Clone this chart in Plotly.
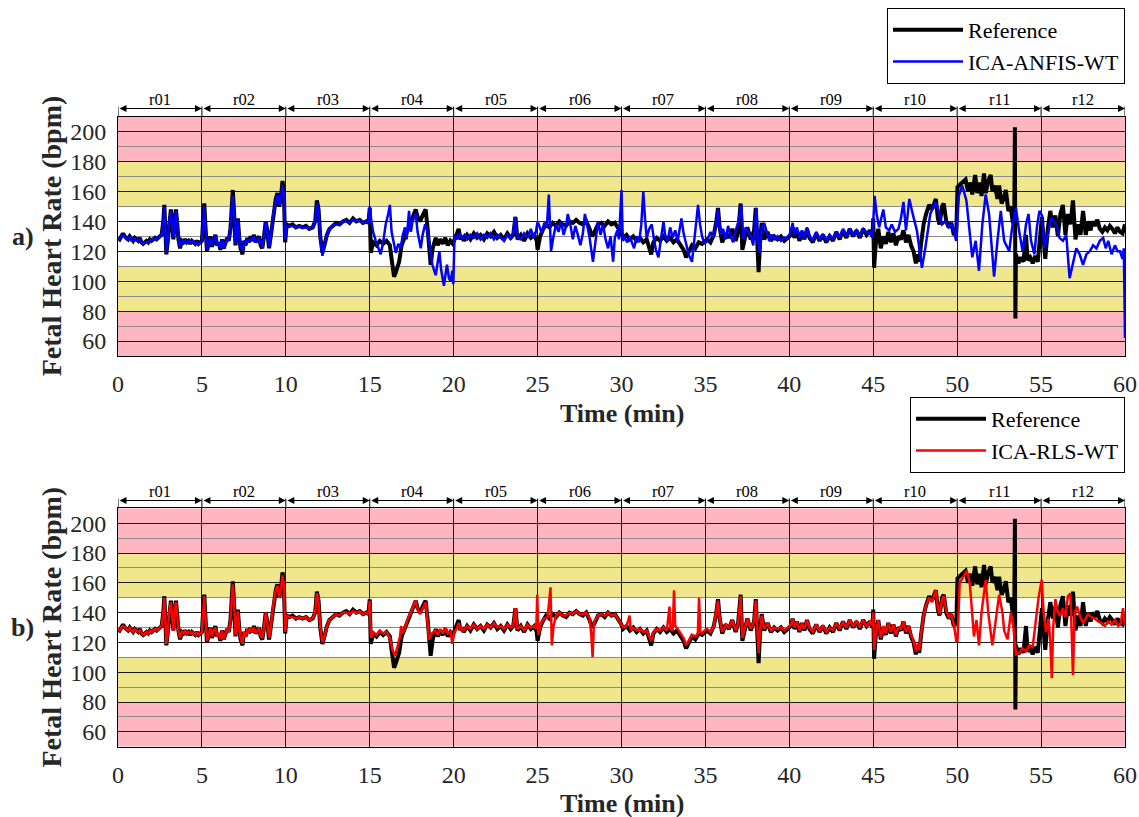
import plotly.graph_objects as go

# ---------------- data (time in min, FHR in bpm) ----------------
reference = [
    (0.0,129),(0.1,128),(0.2,130),(0.3,132),(0.4,130),(0.5,129),(0.6,128),(0.7,130),(0.8,128),(0.9,127),
    (1.0,129),(1.1,128),(1.2,127),(1.3,129),(1.4,126),(1.5,125),(1.6,126),(1.7,127),(1.8,126),(1.9,128),
    (2.0,127),(2.1,128),(2.2,129),(2.3,128),(2.4,129),(2.5,130),(2.6,131),(2.7,140),(2.76,151),(2.82,135),
    (2.88,118),(2.95,125),(3.05,140),(3.15,148),(3.22,140),(3.3,128),(3.38,140),(3.45,148),(3.52,140),(3.6,128),
    (3.7,122),(3.8,127),(3.9,126),(4.0,128),(4.1,126),(4.2,127),(4.3,125),(4.4,127),(4.5,126),(4.6,125),
    (4.7,127),(4.8,125),(4.9,126),(5.0,127),(5.07,140),(5.14,152),(5.22,135),(5.3,120),(5.4,125),(5.5,130),
    (5.6,123),(5.7,128),(5.8,131),(5.9,124),(6.0,126),(6.1,121),(6.2,128),(6.3,122),(6.4,126),(6.5,129),
    (6.6,127),(6.7,135),(6.78,150),(6.84,161),(6.92,145),(7.0,124),(7.08,135),(7.14,142),(7.22,130),(7.3,122),
    (7.42,118),(7.5,127),(7.6,124),(7.7,129),(7.8,126),(7.9,130),(8.0,127),(8.1,131),(8.2,126),(8.3,128),
    (8.4,130),(8.5,124),(8.6,122),(8.7,130),(8.8,140),(8.88,135),(9.0,122),(9.1,130),(9.25,145),(9.4,155),
    (9.5,159),(9.6,150),(9.7,155),(9.8,167),(9.88,160),(9.96,126),(10.05,138),(10.2,137),(10.4,138),(10.6,136),
    (10.8,137),(11.0,136),(11.2,137),(11.4,135),(11.6,136),(11.75,140),(11.85,154),(11.95,148),(12.05,130),(12.18,119),
    (12.3,124),(12.45,131),(12.6,135),(12.8,137),(13.0,139),(13.2,138),(13.4,140),(13.6,141),(13.8,139),(14.0,142),
    (14.2,140),(14.4,141),(14.6,139),(14.8,140),(14.92,139),(15.0,149),(15.06,119),(15.2,126),(15.4,124),(15.6,127),
    (15.8,125),(16.0,127),(16.2,124),(16.3,115),(16.45,103),(16.55,106),(16.75,113),(16.9,124),(17.0,127),(17.14,131),
    (17.3,136),(17.45,140),(17.6,144),(17.74,148),(17.85,143),(18.0,140),(18.15,144),(18.33,148),(18.45,135),(18.55,120),
    (18.63,111),(18.75,122),(18.93,129),(19.05,124),(19.2,128),(19.35,125),(19.5,129),(19.65,124),(19.8,127),(19.95,125),
    (20.1,129),(20.2,131),(20.3,135),(20.4,128),(20.5,130),(20.6,127),(20.8,131),(21.0,128),(21.2,132),(21.4,129),
    (21.6,131),(21.8,128),(22.0,132),(22.2,130),(22.4,133),(22.6,129),(22.8,131),(23.0,128),(23.2,132),(23.4,129),
    (23.55,131),(23.68,143),(23.8,128),(24.0,131),(24.2,127),(24.4,132),(24.6,129),(24.8,131),(24.95,127),(25.0,121),
    (25.15,130),(25.3,134),(25.5,138),(25.7,136),(25.9,139),(26.1,137),(26.3,140),(26.5,138),(26.7,137),(26.9,140),
    (27.1,139),(27.3,141),(27.5,139),(27.7,138),(27.9,140),(28.1,135),(28.25,130),(28.4,133),(28.6,138),(28.8,139),
    (29.0,137),(29.2,140),(29.4,138),(29.6,139),(29.8,136),(29.95,133),(30.1,129),(30.3,131),(30.5,128),(30.7,130),
    (30.9,127),(31.1,129),(31.3,126),(31.5,128),(31.77,118),(31.9,126),(32.1,129),(32.3,127),(32.5,130),(32.7,127),
    (32.9,129),(33.1,126),(33.3,128),(33.5,125),(33.7,121),(33.85,116),(34.0,119),(34.2,124),(34.4,122),(34.6,126),
    (34.8,125),(34.95,127),(35.1,128),(35.3,126),(35.5,131),(35.65,140),(35.75,149),(35.85,136),(36.0,126),(36.2,132),
    (36.4,129),(36.6,135),(36.8,127),(36.95,133),(37.1,152),(37.2,121),(37.35,130),(37.5,136),(37.7,128),(37.9,134),
    (38.0,149),(38.1,125),(38.17,106),(38.25,125),(38.35,139),(38.5,128),(38.7,133),(38.9,127),(39.1,130),(39.3,128),
    (39.5,130),(39.7,127),(39.9,129),(40.1,131),(40.2,136),(40.3,129),(40.45,134),(40.6,127),(40.75,133),(40.9,128),
    (41.05,135),(41.2,129),(41.4,126),(41.6,132),(41.8,127),(42.0,131),(42.2,126),(42.4,130),(42.6,127),(42.8,133),
    (43.0,128),(43.2,134),(43.4,129),(43.6,135),(43.8,130),(44.0,134),(44.2,129),(44.4,135),(44.6,131),(44.8,134),
    (44.95,130),(45.0,142),(45.05,109),(45.15,125),(45.3,135),(45.45,122),(45.6,130),(45.75,125),(45.9,133),(46.05,126),
    (46.2,132),(46.35,124),(46.5,130),(46.65,128),(46.8,134),(46.95,126),(47.1,131),(47.25,124),(47.4,120),(47.54,112),
    (47.65,118),(47.74,113),(47.85,125),(48.0,138),(48.15,145),(48.33,151),(48.5,148),(48.62,152),(48.73,155),(48.85,142),
    (48.95,138),(49.1,150),(49.2,152),(49.35,140),(49.5,136),(49.65,139),(49.8,131),(49.95,133),(50.02,163),(50.2,165),
    (50.35,167),(50.5,168),(50.65,160),(50.8,166),(50.9,158),(51.07,171),(51.2,159),(51.35,166),(51.45,157),(51.6,172),
    (51.7,159),(51.85,167),(52.0,171),(52.1,160),(52.25,164),(52.4,155),(52.5,164),(52.65,152),(52.8,156),(52.9,161),
    (53.05,147),(53.2,150),(53.3,140),(53.4,138),(53.44,203),(53.47,75),(53.5,118),(53.65,112),(53.8,116),(53.95,113),
    (54.1,131),(54.2,114),(54.35,116),(54.5,112),(54.65,117),(54.8,113),(54.95,129),(55.05,143),(55.15,128),(55.25,115),
    (55.4,135),(55.55,147),(55.7,136),(55.85,144),(56.0,130),(56.15,145),(56.3,151),(56.45,131),(56.6,145),(56.75,138),
    (56.9,154),(57.05,128),(57.2,138),(57.35,131),(57.5,147),(57.66,131),(57.8,140),(57.95,134),(58.05,140),(58.2,137),
    (58.35,141),(58.5,135),(58.65,133),(58.8,136),(58.95,134),(59.1,137),(59.25,135),(59.4,132),(59.55,136),(59.7,133),
    (59.85,132),(60.0,138),
]

ica_anfis_wt = [
    (0.0,129),(0.1,128),(0.2,130),(0.3,131),(0.4,130),(0.5,128),(0.6,128),(0.7,130),(0.8,127),(0.9,127),
    (1.0,129),(1.1,127),(1.2,127),(1.3,128),(1.4,126),(1.5,125),(1.6,126),(1.7,126),(1.8,126),(1.9,127),
    (2.0,127),(2.1,128),(2.2,128),(2.3,128),(2.4,129),(2.5,130),(2.6,131),(2.7,140),(2.76,150),(2.82,134),
    (2.88,119),(2.95,126),(3.05,140),(3.15,147),(3.22,139),(3.3,129),(3.38,140),(3.45,147),(3.52,139),(3.6,128),
    (3.7,123),(3.8,127),(3.9,126),(4.0,127),(4.1,126),(4.2,127),(4.3,126),(4.4,127),(4.5,126),(4.6,125),
    (4.7,126),(4.8,125),(4.9,126),(5.0,127),(5.07,140),(5.14,150),(5.22,135),(5.3,121),(5.4,125),(5.5,129),
    (5.6,124),(5.7,128),(5.8,130),(5.9,124),(6.0,126),(6.1,122),(6.2,128),(6.3,122),(6.4,126),(6.5,128),
    (6.6,127),(6.7,135),(6.78,149),(6.84,157),(6.92,144),(7.0,125),(7.08,134),(7.14,141),(7.22,130),(7.3,123),
    (7.42,120),(7.5,127),(7.6,125),(7.7,128),(7.8,126),(7.9,129),(8.0,127),(8.1,130),(8.2,126),(8.3,128),
    (8.4,129),(8.5,125),(8.6,123),(8.7,130),(8.8,140),(8.88,135),(9.0,123),(9.1,130),(9.25,145),(9.4,154),
    (9.5,158),(9.6,151),(9.7,155),(9.8,164),(9.88,158),(9.96,128),(10.05,137),(10.2,137),(10.4,137),(10.6,136),
    (10.8,137),(11.0,136),(11.2,136),(11.4,135),(11.6,136),(11.75,140),(11.85,152),(11.95,147),(12.05,130),(12.18,117),
    (12.3,123),(12.45,131),(12.6,135),(12.8,137),(13.0,138),(13.2,138),(13.4,140),(13.6,140),(13.8,139),(14.0,141),
    (14.2,140),(14.4,141),(14.6,139),(14.8,140),(14.92,140),(15.0,150),(15.1,140),(15.2,133),(15.36,127),(15.5,122),
    (15.65,118),(15.8,126),(15.95,138),(16.1,145),(16.2,151),(16.3,133),(16.45,124),(16.55,119),(16.7,125),(16.85,122),
    (16.95,130),(17.1,136),(17.2,128),(17.34,147),(17.45,133),(17.55,140),(17.74,145),(17.85,133),(18.04,122),(18.15,131),
    (18.3,138),(18.43,134),(18.6,122),(18.73,111),(18.93,104),(19.05,113),(19.15,120),(19.25,108),(19.42,97),(19.52,105),
    (19.6,111),(19.72,102),(19.82,100),(19.92,107),(19.98,98),(20.05,131),(20.2,128),(20.35,132),(20.5,129),(20.65,131),
    (20.8,128),(21.0,131),(21.2,129),(21.4,132),(21.6,128),(21.8,131),(22.0,129),(22.2,132),(22.4,128),(22.6,131),
    (22.8,129),(23.0,127),(23.2,131),(23.4,128),(23.55,132),(23.65,143),(23.8,130),(24.0,128),(24.2,132),(24.4,129),
    (24.6,135),(24.75,129),(24.9,133),(25.0,140),(25.1,137),(25.25,132),(25.4,139),(25.55,136),(25.67,158),(25.8,120),
    (25.95,130),(26.1,138),(26.25,133),(26.4,140),(26.55,131),(26.7,137),(26.8,145),(26.95,138),(27.1,128),(27.25,137),
    (27.4,131),(27.55,124),(27.7,132),(27.82,145),(27.95,138),(28.1,129),(28.3,113),(28.45,127),(28.6,140),(28.75,131),
    (28.9,138),(29.05,128),(29.2,122),(29.35,130),(29.5,113),(29.6,129),(29.75,134),(29.85,128),(30.0,161),(30.08,127),
    (30.2,129),(30.35,126),(30.5,130),(30.65,125),(30.75,122),(30.9,130),(31.05,126),(31.18,138),(31.3,160),(31.4,142),
    (31.5,129),(31.65,135),(31.8,138),(31.95,127),(32.05,121),(32.2,116),(32.35,128),(32.5,140),(32.6,131),(32.75,127),
    (32.9,136),(33.05,129),(33.2,134),(33.35,127),(33.57,142),(33.7,132),(33.85,125),(34.0,118),(34.2,113),(34.3,125),
    (34.45,138),(34.56,151),(34.68,138),(34.8,130),(34.95,125),(35.1,127),(35.3,133),(35.45,129),(35.6,136),(35.75,148),
    (35.9,131),(36.05,135),(36.2,128),(36.35,137),(36.5,130),(36.65,126),(36.8,134),(36.95,139),(37.14,151),(37.25,128),
    (37.4,136),(37.55,133),(37.7,130),(37.85,124),(38.04,149),(38.12,128),(38.25,119),(38.35,135),(38.5,139),(38.65,133),
    (38.8,127),(38.95,131),(39.15,128),(39.3,130),(39.5,127),(39.7,129),(39.85,128),(40.0,131),(40.1,134),(40.2,139),
    (40.3,131),(40.45,136),(40.6,129),(40.75,134),(40.9,128),(41.05,136),(41.2,130),(41.4,127),(41.6,133),(41.8,128),
    (42.0,131),(42.2,127),(42.4,131),(42.6,128),(42.8,133),(43.0,129),(43.2,135),(43.4,130),(43.6,135),(43.8,131),
    (44.0,134),(44.2,130),(44.4,135),(44.6,132),(44.8,133),(44.95,129),(45.08,157),(45.2,145),(45.35,136),(45.6,148),
    (45.75,136),(45.95,134),(46.1,138),(46.3,133),(46.5,135),(46.65,142),(46.8,153),(46.95,134),(47.15,155),(47.35,145),
    (47.6,134),(47.9,109),(48.1,122),(48.4,145),(48.7,153),(48.9,147),(49.1,138),(49.3,140),(49.5,136),(49.7,138),
    (49.94,127),(50.1,157),(50.3,164),(50.55,154),(50.75,134),(50.9,116),(51.1,127),(51.3,107),(51.5,138),(51.7,158),
    (51.9,145),(52.2,103),(52.4,127),(52.6,147),(52.8,127),(53.1,120),(53.3,138),(53.5,149),(53.7,133),(53.9,120),
    (54.1,138),(54.25,145),(54.4,127),(54.6,118),(54.75,136),(54.9,147),(55.05,144),(55.2,122),(55.4,131),(55.6,142),
    (55.9,138),(56.1,129),(56.3,127),(56.5,131),(56.7,102),(56.9,111),(57.1,122),(57.3,118),(57.5,111),(57.7,118),
    (57.9,120),(58.1,124),(58.3,122),(58.5,127),(58.7,129),(58.85,122),(59.0,127),(59.2,118),(59.4,124),(59.55,120),
    (59.7,120),(59.85,115),(59.93,122),(60.0,62),
]

ica_rls_wt = [
    (0.0,129),(0.1,128),(0.2,130),(0.3,131),(0.4,130),(0.5,129),(0.6,128),(0.7,130),(0.8,128),(0.9,127),
    (1.0,129),(1.1,128),(1.2,127),(1.3,128),(1.4,126),(1.5,125),(1.6,126),(1.7,127),(1.8,126),(1.9,128),
    (2.0,127),(2.1,128),(2.2,129),(2.3,128),(2.4,129),(2.5,130),(2.6,131),(2.7,140),(2.76,150),(2.82,135),
    (2.88,119),(2.95,125),(3.05,140),(3.15,147),(3.22,140),(3.3,128),(3.38,140),(3.45,147),(3.52,140),(3.6,128),
    (3.7,123),(3.8,127),(3.9,126),(4.0,128),(4.1,126),(4.2,127),(4.3,126),(4.4,127),(4.5,126),(4.6,125),
    (4.7,127),(4.8,125),(4.9,126),(5.0,127),(5.07,140),(5.14,151),(5.22,135),(5.3,121),(5.4,125),(5.5,130),
    (5.6,124),(5.7,128),(5.8,130),(5.9,124),(6.0,126),(6.1,122),(6.2,128),(6.3,122),(6.4,126),(6.5,129),
    (6.6,127),(6.7,135),(6.78,150),(6.84,159),(6.92,145),(7.0,125),(7.08,135),(7.14,141),(7.22,130),(7.3,123),
    (7.42,119),(7.5,127),(7.6,124),(7.7,129),(7.8,126),(7.9,130),(8.0,127),(8.1,130),(8.2,126),(8.3,128),
    (8.4,130),(8.5,124),(8.6,123),(8.7,130),(8.8,140),(8.88,135),(9.0,123),(9.1,130),(9.25,145),(9.4,155),
    (9.5,158),(9.6,150),(9.7,155),(9.8,165),(9.88,159),(9.96,127),(10.05,138),(10.2,137),(10.4,137),(10.6,136),
    (10.8,137),(11.0,136),(11.2,137),(11.4,135),(11.6,136),(11.75,140),(11.85,153),(11.95,147),(12.05,130),(12.18,120),
    (12.3,124),(12.45,131),(12.6,135),(12.8,137),(13.0,139),(13.2,138),(13.4,140),(13.6,140),(13.8,139),(14.0,141),
    (14.2,140),(14.4,141),(14.6,139),(14.8,140),(14.92,139),(15.0,148),(15.08,123),(15.2,127),(15.4,125),(15.6,128),
    (15.8,126),(16.0,127),(16.2,123),(16.35,115),(16.5,111),(16.65,117),(16.8,124),(16.87,131),(16.95,126),(17.1,130),
    (17.3,137),(17.45,140),(17.6,145),(17.74,148),(17.85,142),(18.0,139),(18.15,143),(18.33,147),(18.45,133),(18.53,122),
    (18.7,126),(18.9,128),(19.05,125),(19.2,129),(19.35,126),(19.5,130),(19.65,126),(19.8,128),(19.92,119),(20.05,127),
    (20.2,130),(20.3,133),(20.4,128),(20.5,130),(20.6,128),(20.8,131),(21.0,129),(21.2,132),(21.4,129),(21.6,131),
    (21.8,129),(22.0,132),(22.2,130),(22.4,133),(22.6,130),(22.8,131),(23.0,129),(23.2,132),(23.4,130),(23.55,131),
    (23.68,143),(23.8,129),(24.0,131),(24.2,128),(24.4,132),(24.6,130),(24.8,131),(24.92,129),(24.98,152),(25.05,125),
    (25.2,133),(25.4,136),(25.6,137),(25.77,157),(25.85,118),(25.95,131),(26.1,138),(26.3,140),(26.5,138),(26.7,138),
    (26.9,140),(27.1,139),(27.3,141),(27.5,139),(27.7,139),(27.9,140),(28.1,136),(28.2,125),(28.28,110),(28.36,134),
    (28.5,136),(28.6,138),(28.8,139),(29.0,138),(29.2,140),(29.4,138),(29.6,139),(29.8,136),(29.95,133),(30.1,130),
    (30.3,131),(30.48,138),(30.55,128),(30.7,130),(30.9,128),(31.1,129),(31.3,127),(31.5,128),(31.77,121),(31.9,127),
    (32.1,129),(32.3,128),(32.5,130),(32.7,128),(32.86,144),(32.92,129),(33.05,128),(33.13,155),(33.2,131),(33.35,129),
    (33.5,126),(33.7,123),(33.85,118),(34.0,121),(34.2,125),(34.4,124),(34.55,126),(34.62,150),(34.7,127),(34.8,126),
    (34.95,128),(35.1,129),(35.3,127),(35.5,131),(35.65,140),(35.75,148),(35.85,136),(36.0,127),(36.2,132),(36.4,130),
    (36.6,135),(36.8,128),(36.95,133),(37.1,151),(37.2,123),(37.35,130),(37.5,136),(37.7,129),(37.9,134),(38.0,148),
    (38.1,126),(38.17,113),(38.25,127),(38.35,138),(38.5,129),(38.7,133),(38.9,128),(39.1,130),(39.3,129),(39.5,130),
    (39.7,128),(39.9,130),(40.1,132),(40.2,136),(40.3,130),(40.45,134),(40.6,128),(40.75,133),(40.9,129),(41.05,135),
    (41.2,130),(41.4,127),(41.6,132),(41.8,128),(42.0,131),(42.2,127),(42.4,130),(42.6,128),(42.8,133),(43.0,129),
    (43.2,134),(43.4,130),(43.6,135),(43.8,131),(44.0,134),(44.2,130),(44.4,135),(44.6,131),(44.8,134),(44.95,131),
    (45.0,140),(45.05,115),(45.15,126),(45.3,135),(45.45,123),(45.6,131),(45.75,126),(45.9,133),(46.05,127),(46.2,132),
    (46.35,125),(46.5,130),(46.65,129),(46.8,134),(46.95,127),(47.1,131),(47.25,125),(47.4,121),(47.54,114),(47.65,119),
    (47.74,115),(47.85,126),(48.0,138),(48.15,145),(48.33,150),(48.5,147),(48.62,151),(48.73,155),(48.85,143),(48.95,139),
    (49.1,149),(49.2,151),(49.35,141),(49.5,137),(49.65,139),(49.8,132),(49.95,121),(50.02,121),(50.15,160),(50.35,164),
    (50.57,168),(50.75,160),(50.9,137),(51.0,124),(51.15,135),(51.3,118),(51.45,140),(51.7,162),(51.85,140),(52.1,118),
    (52.3,135),(52.5,152),(52.7,140),(52.8,128),(53.0,122),(53.2,140),(53.35,130),(53.5,112),(53.7,113),(53.9,116),
    (54.1,114),(54.3,118),(54.5,117),(54.7,135),(54.85,150),(55.04,162),(55.15,140),(55.3,127),(55.45,136),(55.55,120),
    (55.64,96),(55.72,130),(55.85,149),(56.0,140),(56.15,138),(56.3,143),(56.45,137),(56.6,151),(56.75,153),(56.9,98),
    (57.0,140),(57.15,144),(57.3,138),(57.5,133),(57.8,139),(58.0,137),(58.2,136),(58.4,134),(58.6,133),(58.8,131),
    (59.0,134),(59.2,132),(59.4,135),(59.6,131),(59.75,133),(59.88,143),(60.0,131),
]

record_labels = ["r01", "r02", "r03", "r04", "r05", "r06", "r07", "r08", "r09", "r10", "r11", "r12"]
record_edges = [0, 5, 10, 15, 20, 25, 30, 35, 40, 45, 50, 55, 60]
x_ticks = [0, 5, 10, 15, 20, 25, 30, 35, 40, 45, 50, 55, 60]
y_ticks = [60, 80, 100, 120, 140, 160, 180, 200]
band_edges = [50, 80, 110, 150, 180, 210]
band_colors = ["#FFB6C1", "#F0E68C", "#FFFFFF", "#F0E68C", "#FFB6C1"]

# ---------------- figure ----------------
W, H = 1139, 817
FONT = "Liberation Serif"


def px_x(p):
    return p / W


def px_y(p):
    return 1 - p / H


ref_t, ref_v = zip(*reference)
anf_t, anf_v = zip(*ica_anfis_wt)
rls_t, rls_v = zip(*ica_rls_wt)

fig = go.Figure()
fig.add_trace(go.Scatter(x=ref_t, y=ref_v, mode="lines", name="Reference",
                         line=dict(color="black", width=4), xaxis="x", yaxis="y", legend="legend"))
fig.add_trace(go.Scatter(x=anf_t, y=anf_v, mode="lines", name="ICA-ANFIS-WT",
                         line=dict(color="#0000FF", width=2.5), xaxis="x", yaxis="y", legend="legend"))
fig.add_trace(go.Scatter(x=ref_t, y=ref_v, mode="lines", name="Reference",
                         line=dict(color="black", width=4), xaxis="x2", yaxis="y2", legend="legend2"))
fig.add_trace(go.Scatter(x=rls_t, y=rls_v, mode="lines", name="ICA-RLS-WT",
                         line=dict(color="#FF0000", width=2.5), xaxis="x2", yaxis="y2", legend="legend2"))

panels = [
    # (xaxis, yaxis, top px, bottom px, label, arrow px, text px)
    ("x", "y", 116.7, 356.0, "a)", 108.5, 99.5),
    ("x2", "y2", 508.3, 746.7, "b)", 500.5, 491.0),
]
xdom = [px_x(118), px_x(1125)]

axis_common_x = dict(range=[0, 60], tickvals=x_ticks, showgrid=True, gridcolor="#1a1a1a", gridwidth=1,
                     showline=True, linecolor="black", linewidth=1, mirror=True, ticks="",
                     tickfont=dict(family=FONT, size=24, color="#262626"), zeroline=False,
                     ticklabelstandoff=6, automargin=False)
axis_common_y = dict(range=[50, 210], tickvals=y_ticks, showgrid=True, gridcolor="#1a1a1a", gridwidth=1,
                     minor=dict(tickvals=[70, 90, 110, 130, 150, 170, 190], showgrid=True,
                                gridcolor="#8c8c8c", gridwidth=1),
                     showline=True, linecolor="black", linewidth=1, mirror=True, ticks="",
                     tickfont=dict(family=FONT, size=24, color="#262626"), zeroline=False,
                     ticklabelstandoff=6, automargin=False)

layout = dict(width=W, height=H, margin=dict(l=0, r=0, t=0, b=0),
              paper_bgcolor="white", plot_bgcolor="white", showlegend=True)
shapes, annotations = [], []
for xa, ya, top, bot, lab, arr_px, txt_px in panels:
    xkey = "xaxis" if xa == "x" else "xaxis2"
    ykey = "yaxis" if ya == "y" else "yaxis2"
    layout[xkey] = dict(domain=xdom, anchor=ya, **axis_common_x)
    layout[ykey] = dict(domain=[px_y(bot), px_y(top)], anchor=xa, **axis_common_y)
    # background bands
    for i, c in enumerate(band_colors):
        shapes.append(dict(type="rect", xref=xa, yref=ya, x0=0, x1=60, y0=band_edges[i], y1=band_edges[i + 1],
                           fillcolor=c, line=dict(width=0), layer="below"))
    # record separators above the plot
    for e in record_edges:
        shapes.append(dict(type="line", xref=xa, yref="paper", x0=e, x1=e, y0=px_y(arr_px - 2), y1=px_y(top),
                           line=dict(color="black", width=1)))
    # double arrows + record labels
    for i, name in enumerate(record_labels):
        x0, x1 = record_edges[i], record_edges[i + 1]
        annotations.append(dict(x=x1, y=px_y(arr_px), xref=xa, yref="paper", ax=x0, ay=0, axref=xa,
                                text="", showarrow=True, arrowside="end+start", arrowhead=2,
                                arrowsize=1.4, arrowwidth=1, arrowcolor="black",
                                standoff=0, startstandoff=0))
        annotations.append(dict(x=(x0 + x1) / 2, y=px_y(txt_px), xref=xa, yref="paper", text=name,
                                showarrow=False, font=dict(family=FONT, size=16.5, color="black"),
                                xanchor="center", yanchor="middle"))
    mid = (top + bot) / 2
    annotations.append(dict(x=px_x(22.5), y=px_y(mid), xref="paper", yref="paper", text=f"<b>{lab}</b>",
                            showarrow=False, font=dict(family=FONT, size=26, color="#262626"),
                            xanchor="center", yanchor="middle"))
    annotations.append(dict(x=px_x(51), y=px_y(mid), xref="paper", yref="paper",
                            text="<b>Fetal Heart Rate (bpm)</b>", textangle=-90, showarrow=False,
                            font=dict(family=FONT, size=28, color="#262626"),
                            xanchor="center", yanchor="middle"))
    annotations.append(dict(x=(xdom[0] + xdom[1]) / 2, y=px_y(bot + 57), xref="paper", yref="paper",
                            text="<b>Time (min)</b>", showarrow=False,
                            font=dict(family=FONT, size=26, color="#262626"),
                            xanchor="center", yanchor="middle"))

legend_style = dict(bgcolor="white", bordercolor="black", borderwidth=1,
                    font=dict(family=FONT, size=22, color="black"), itemwidth=70,
                    xanchor="right", yanchor="top", tracegroupgap=0)
layout["legend"] = dict(x=px_x(1125), y=px_y(8), **legend_style)
layout["legend2"] = dict(x=px_x(1125), y=px_y(397), **legend_style)
layout["shapes"] = shapes
layout["annotations"] = annotations
fig.update_layout(**layout)

fig.write_html("out.html")
